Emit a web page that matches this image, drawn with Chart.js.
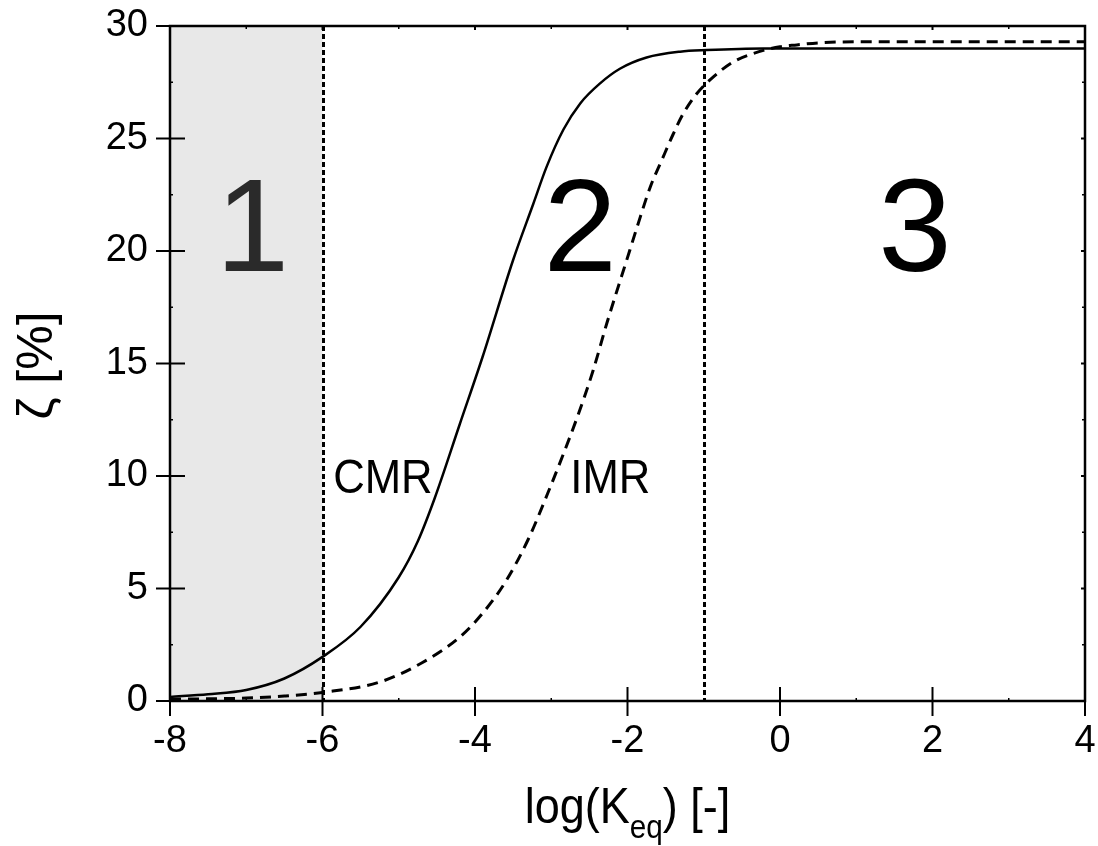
<!DOCTYPE html>
<html>
<head>
<meta charset="utf-8">
<script src="https://cdn.jsdelivr.net/npm/chart.js@4.4.1/dist/chart.umd.min.js"></script>
<style>
  html, body { margin: 0; padding: 0; background: #fff; }
  #wrap { width: 1098px; height: 846px; }
</style>
</head>
<body>
<div id="wrap"><canvas id="c" width="1098" height="846"></canvas></div>
<script>
// ---- data ----
const cmrX = [-8, -7.5, -7, -6.5, -6, -5.5, -5, -4.75, -4.53, -4.2, -3.9, -3.5, -3.235, -3.06, -2.84, -2.62, -2.36, -2.1, -1.75, -1.31, -0.96, -0.22, 1, 2, 3, 4];
const cmrY = [0.18, 0.3, 0.49, 1.0, 1.96, 3.3, 5.5, 7.1, 9.0, 12.3, 15.3, 19.6, 22.1, 23.75, 25.4, 26.56, 27.45, 28.1, 28.6, 28.86, 28.93, 29.0, 29.0, 29.0, 29.0, 29.0];

const imrX = [-8, -7, -6.5, -6, -5.25, -4.7, -4.2, -3.9, -3.6, -3.3, -3.05, -2.85, -2.65, -2.45, -2.27, -2.01, -1.88, -1.70, -1.55, -1.40, -1.27, -1.09, -0.87, -0.61, -0.35, 0.0, 0.22, 0.5, 1, 2, 3, 4];
const imrY = [0.08, 0.13, 0.22, 0.38, 0.84, 1.69, 2.84, 3.9, 5.3, 7.2, 9.2, 10.9, 12.7, 14.7, 16.8, 19.6, 21.0, 22.86, 24.04, 25.2, 26.1, 27.0, 27.75, 28.41, 28.78, 29.08, 29.16, 29.25, 29.3, 29.3, 29.3, 29.3];

const xTickValues = [-8, -6, -4, -2, 0, 2, 4];
const yTickValues = [0, 5, 10, 15, 20, 25, 30];
const xMinorValues = [-7, -5, -3, -1, 1, 3];
const yMinorValues = [2.5, 7.5, 12.5, 17.5, 22.5, 27.5];

const regionBounds = [-6, -1];         // vertical dashed separators
const regionLabels = ["1", "2", "3"];
const regionLabelX = [-6.92, -2.62, 1.77];
const regionLabelY = 19.1;

const curveLabels = ["CMR", "IMR"];
const curveLabelX = [-5.86, -2.75];
const curveLabelY = 9.24;

const FONT = "'Liberation Sans', Arial, sans-serif";

const toPts = (xs, ys) => xs.map((x, i) => ({ x: x, y: ys[i] }));

const decor = {
  id: 'decor',
  beforeDatasetsDraw(chart) {
    const { ctx, chartArea: a, scales: { x, y } } = chart;
    ctx.save();
    const xs0 = x.getPixelForValue(-8), xs1 = x.getPixelForValue(regionBounds[0]);
    ctx.fillStyle = '#e8e8e8';
    ctx.fillRect(xs0, a.top, xs1 - xs0, a.bottom - a.top);
    ctx.strokeStyle = '#000';
    ctx.lineWidth = 3;
    ctx.setLineDash([5, 3]);
    regionBounds.forEach(v => {
      const px = Math.round(x.getPixelForValue(v)) + 0.5;
      ctx.beginPath();
      ctx.moveTo(px, y.getPixelForValue(30));
      ctx.lineTo(px, y.getPixelForValue(0));
      ctx.stroke();
    });
    ctx.setLineDash([]);
    ctx.font = '132px ' + FONT;
    ctx.textAlign = 'center';
    ctx.textBaseline = 'alphabetic';
    regionLabels.forEach((t, i) => {
      ctx.fillStyle = i === 0 ? '#2a2a2a' : '#000';
      ctx.fillText(t, x.getPixelForValue(regionLabelX[i]), y.getPixelForValue(regionLabelY));
    });
    ctx.fillStyle = '#000';
    ctx.font = '48px ' + FONT;
    ctx.textAlign = 'left';
    curveLabels.forEach((t, i) => {
      ctx.save();
      ctx.translate(x.getPixelForValue(curveLabelX[i]), y.getPixelForValue(curveLabelY));
      ctx.scale(0.91, 1);
      ctx.fillText(t, 0, 0);
      ctx.restore();
    });
    ctx.restore();
  },
  afterDatasetsDraw(chart) {
    const { ctx, chartArea: a, scales: { x, y } } = chart;
    ctx.save();
    ctx.strokeStyle = '#000';
    ctx.lineWidth = 2.5;
    ctx.strokeRect(a.left, a.top, a.right - a.left, a.bottom - a.top);
    ctx.lineWidth = 2;
    xTickValues.forEach(v => {
      const px = x.getPixelForValue(v);
      ctx.beginPath();
      ctx.moveTo(px, a.bottom - 14); ctx.lineTo(px, a.bottom + 15); ctx.stroke();
      ctx.beginPath();
      ctx.moveTo(px, a.top); ctx.lineTo(px, a.top + 4); ctx.stroke();
    });
    yTickValues.forEach(v => {
      const py = y.getPixelForValue(v);
      ctx.beginPath();
      ctx.moveTo(a.left - 14, py); ctx.lineTo(a.left + 15, py); ctx.stroke();
      ctx.beginPath();
      ctx.moveTo(a.right, py); ctx.lineTo(a.right - 4, py); ctx.stroke();
    });
    ctx.lineWidth = 1.5;
    xMinorValues.forEach(v => {
      const px = x.getPixelForValue(v);
      ctx.beginPath(); ctx.moveTo(px, a.bottom); ctx.lineTo(px, a.bottom - 3); ctx.stroke();
      ctx.beginPath(); ctx.moveTo(px, a.top); ctx.lineTo(px, a.top + 3); ctx.stroke();
    });
    yMinorValues.forEach(v => {
      const py = y.getPixelForValue(v);
      ctx.beginPath(); ctx.moveTo(a.left, py); ctx.lineTo(a.left + 3, py); ctx.stroke();
      ctx.beginPath(); ctx.moveTo(a.right, py); ctx.lineTo(a.right - 3, py); ctx.stroke();
    });
    ctx.fillStyle = '#000';
    const base = 823;
    const big = '50px ' + FONT, small = '33px ' + FONT;
    const parts = [['log(K', big, 0], ['eq', small, 15], [') [-]', big, 0]];
    let total = 0;
    parts.forEach(p => { ctx.font = p[1]; total += ctx.measureText(p[0]).width; });
    const sx = 0.9;
    const cx = (a.left + a.right) / 2;
    let cur = cx - total * sx / 2;
    ctx.textAlign = 'left';
    ctx.textBaseline = 'alphabetic';
    parts.forEach(p => {
      ctx.font = p[1];
      const w = ctx.measureText(p[0]).width;
      ctx.save();
      ctx.translate(cur, base + p[2]);
      ctx.scale(sx, 1);
      ctx.fillText(p[0], 0, 0);
      ctx.restore();
      cur += w * sx;
    });
    ctx.save();
    ctx.translate(52, (a.top + a.bottom) / 2 + 2);
    ctx.rotate(-Math.PI / 2);
    ctx.font = '50px ' + FONT;
    ctx.textAlign = 'center';
    ctx.textBaseline = 'alphabetic';
    ctx.fillText('\u03B6 [%]', 0, 0);
    ctx.restore();
    ctx.restore();
  }
};

new Chart(document.getElementById('c'), {
  type: 'line',
  data: {
    datasets: [
      { label: 'CMR', data: toPts(cmrX, cmrY), borderColor: '#000', borderWidth: 2.5,
        pointRadius: 0, cubicInterpolationMode: 'monotone', fill: false },
      { label: 'IMR', data: toPts(imrX, imrY), borderColor: '#000', borderWidth: 3,
        borderDash: [11, 7], pointRadius: 0, cubicInterpolationMode: 'monotone', fill: false }
    ]
  },
  options: {
    responsive: false,
    animation: false,
    devicePixelRatio: 1,
    layout: { padding: { left: 0, right: 13, top: 26, bottom: 0 } },
    plugins: { legend: { display: false }, tooltip: { enabled: false } },
    scales: {
      x: {
        type: 'linear', min: -8, max: 4,
        afterBuildTicks: s => { s.ticks = xTickValues.map(v => ({ value: v })); },
        afterFit: s => { s.height = 145; },
        grid: { display: false, drawTicks: true, tickLength: 18 },
        border: { display: false },
        ticks: { font: { size: 38, family: FONT }, color: '#000', padding: 0, maxRotation: 0,
                 callback: v => String(v) }
      },
      y: {
        type: 'linear', min: 0, max: 30,
        afterBuildTicks: s => { s.ticks = yTickValues.map(v => ({ value: v })); },
        afterFit: s => { s.width = 170; },
        grid: { display: false, drawTicks: true, tickLength: 22 },
        border: { display: false },
        ticks: { font: { size: 38, family: FONT }, color: '#000', padding: 0,
                 callback: v => String(v) }
      }
    }
  },
  plugins: [decor]
});
</script>
</body>
</html>
